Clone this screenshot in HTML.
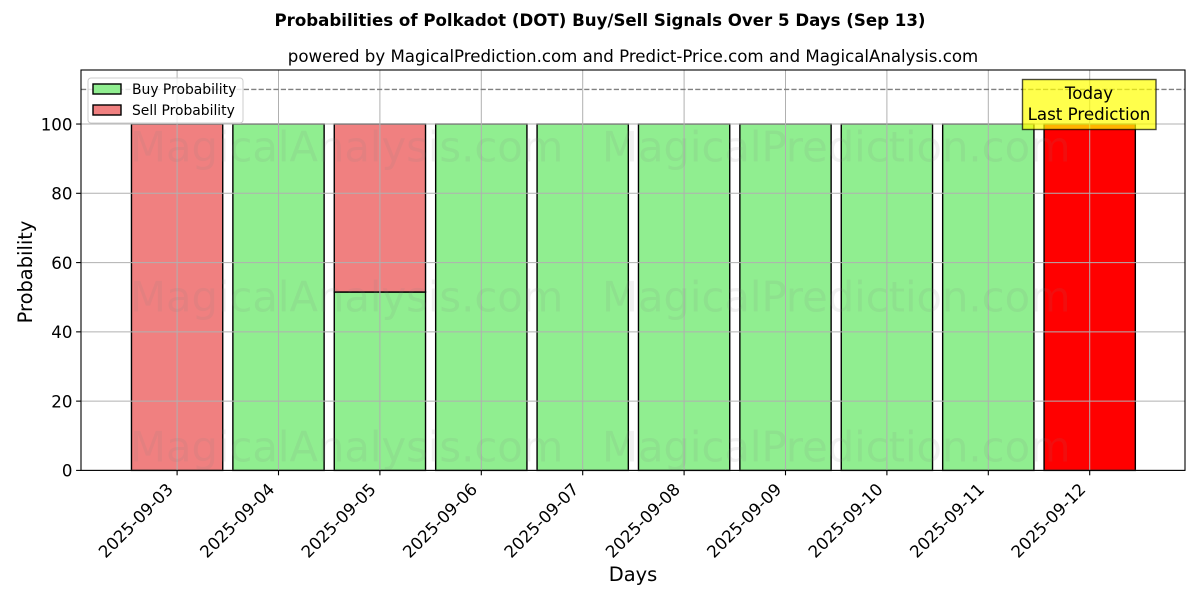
<!DOCTYPE html>
<html lang="en">
<head>
<meta charset="utf-8">
<title>Probabilities of Polkadot (DOT) Buy/Sell Signals</title>
<style>
html,body{margin:0;padding:0;background:#fff;width:1200px;height:600px;overflow:hidden}
svg{display:block}
text{font-family:"DejaVu Sans",sans-serif;fill:#000}
</style>
</head>
<body>
<svg id="chart" xmlns="http://www.w3.org/2000/svg" width="1200" height="600" viewBox="0 0 1200 600"></svg>
<script>
const categories = ['2025-09-03','2025-09-04','2025-09-05','2025-09-06','2025-09-07','2025-09-08','2025-09-09','2025-09-10','2025-09-11','2025-09-12'];
const buyValues = [0,100,51.5,100,100,100,100,100,100,0];
const sellValues = [100,0,48.5,0,0,0,0,0,0,100];
const yTicks = [0,20,40,60,80,100];
const thresholdValue = 110;
const watermarkRows = [90,46.7,3.4];

const plot = {left:81,right:1185,top:70,bottom:470.4};
const yMax = 115.6;
const firstTickX = 177.1;
const stepX = 101.4;
const barWidth = 0.9;
const NS = 'http://www.w3.org/2000/svg';
const svg = document.getElementById('chart');

function xScale(i){ return firstTickX + i * stepX; }
function yScale(v){ return plot.bottom - (v / yMax) * (plot.bottom - plot.top); }

function make(tag, attrs, parent){
  const el = document.createElementNS(NS, tag);
  for (const k in attrs) el.setAttribute(k, attrs[k]);
  (parent || svg).appendChild(el);
  return el;
}
function label(str, attrs, parent){
  const el = make('text', attrs, parent);
  el.textContent = str;
  return el;
}

/* bars */
categories.forEach((c, i) => {
  const x0 = xScale(i - barWidth / 2);
  const w = xScale(i + barWidth / 2) - x0;
  if (buyValues[i] > 0) {
    const r = make('rect', {x:x0, y:yScale(buyValues[i]), width:w, height:yScale(0) - yScale(buyValues[i]), fill:'#90ee90', stroke:'#000', 'stroke-width':1.4});
    
    
  }
  if (sellValues[i] > 0) {
    const isLast = i === categories.length - 1;
    const top = yScale(buyValues[i] + sellValues[i]);
    const r = make('rect', {x:x0, y:top, width:w, height:yScale(buyValues[i]) - top, fill:isLast ? '#ff0000' : '#f08080', stroke:'#000', 'stroke-width':1.4});
    
    
  }
});

/* grid */
categories.forEach((c, i) => {
  const g = make('line', {x1:xScale(i), x2:xScale(i), y1:plot.top, y2:plot.bottom, stroke:'#b0b0b0', 'stroke-width':1});
  
  
});
yTicks.forEach(v => {
  const g = make('line', {x1:plot.left, x2:plot.right, y1:yScale(v), y2:yScale(v), stroke:'#b0b0b0', 'stroke-width':1});
  
  
});

/* threshold */
const th = make('line', {x1:plot.left, x2:plot.right, y1:yScale(thresholdValue), y2:yScale(thresholdValue), stroke:'#808080', 'stroke-width':1.4, 'stroke-dasharray':'5.2 2.2'});



/* watermarks */
watermarkRows.forEach(v => {
  const a = label('MagicalAnalysis.com', {x:130, y:yScale(v) + 3, 'font-size':41.67, style:'fill:#808080;fill-opacity:.11'});
  
  
  const b = label('MagicalPrediction.com', {x:602, y:yScale(v) + 3, 'font-size':41.67, style:'fill:#808080;fill-opacity:.11'});
  
  
});

/* axes frame */
const frame = make('rect', {x:plot.left, y:plot.top, width:plot.right - plot.left, height:plot.bottom - plot.top, fill:'none', stroke:'#000', 'stroke-width':1.1});



/* y ticks */
yTicks.forEach(v => {
  const t = make('line', {x1:plot.left - 4.9, x2:plot.left, y1:yScale(v), y2:yScale(v), stroke:'#000', 'stroke-width':1.1});
  
  
  const l = label(String(v), {x:plot.left - 8.5, y:yScale(v) + 6.3, 'font-size':16.67, 'text-anchor':'end'});
  
  
});

/* x ticks */
categories.forEach((c, i) => {
  const x = xScale(i);
  const t = make('line', {x1:x, x2:x, y1:plot.bottom, y2:plot.bottom + 4.9, stroke:'#000', 'stroke-width':1.1});
  
  
  const px = x - 3;
  const py = plot.bottom + 20;
  const l = label(c, {x:px, y:py, 'font-size':16.67, 'text-anchor':'end', transform:'rotate(-45 ' + px + ' ' + py + ')'});
  
  
});

/* titles */
const mainTitle = label('Probabilities of Polkadot (DOT) Buy/Sell Signals Over 5 Days (Sep 13)', {x:600, y:26, 'font-size':16.63, 'font-weight':'bold', 'text-anchor':'middle', style:'font-weight:bold'});


const subTitle = label('powered by MagicalPrediction.com and Predict-Price.com and MagicalAnalysis.com', {x:633, y:62, 'font-size':16.63, 'text-anchor':'middle'});


const xTitle = label('Days', {x:633, y:581, 'font-size':19.44, 'text-anchor':'middle'});


const yTitle = label('Probability', {x:32, y:272, 'font-size':19.44, 'text-anchor':'middle', transform:'rotate(-90 32 272)'});



/* legend */
const legend = make('g', {});


const legendBox = make('rect', {x:88, y:78, width:155, height:45, rx:3, fill:'#fff', 'fill-opacity':.8, stroke:'#ccc', 'stroke-width':1}, legend);


const buySwatch = make('rect', {x:93, y:84, width:28, height:10, fill:'#90ee90', stroke:'#000', 'stroke-width':1.4}, legend);


const buyLabel = label('Buy Probability', {x:132, y:94, 'font-size':13.89}, legend);


const sellSwatch = make('rect', {x:93, y:105, width:28, height:10, fill:'#f08080', stroke:'#000', 'stroke-width':1.4}, legend);


const sellLabel = label('Sell Probability', {x:132, y:115, 'font-size':13.89}, legend);



/* annotation */
const note = make('g', {});


const noteBox = make('rect', {x:1022.5, y:79.5, width:133.5, height:50, fill:'#ffff00', 'fill-opacity':.7, stroke:'#000', 'stroke-opacity':.7, 'stroke-width':1.4}, note);


const noteA = label('Today', {x:1089, y:99, 'font-size':16.67, 'text-anchor':'middle'}, note);


const noteB = label('Last Prediction', {x:1089, y:120, 'font-size':16.67, 'text-anchor':'middle'}, note);


</script>
</body>
</html>
